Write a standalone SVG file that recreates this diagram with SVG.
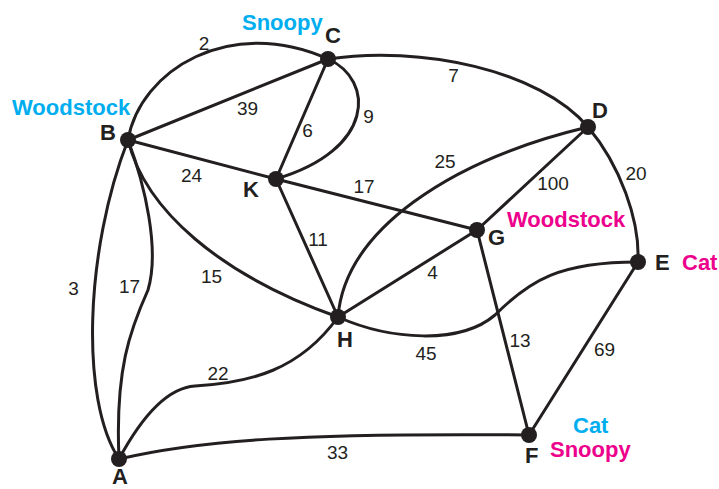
<svg xmlns="http://www.w3.org/2000/svg" width="719" height="489" viewBox="0 0 719 489">
<style>
.e{fill:none;stroke:#231f20;stroke-width:3;stroke-linecap:round}
.n{fill:#231f20}
.nl{font-family:"Liberation Sans",Arial,sans-serif;font-weight:bold;font-size:22px;fill:#231f20}
.w{font-family:"Liberation Sans",Arial,sans-serif;font-size:19px;fill:#231f20;text-anchor:middle}
.cy{font-family:"Liberation Sans",Arial,sans-serif;font-weight:bold;font-size:22px;fill:#00aeef}
.mg{font-family:"Liberation Sans",Arial,sans-serif;font-weight:bold;font-size:22px;fill:#ec008c}
</style>
<rect width="719" height="489" fill="#fff"/>
<g id="connectors">
<path class="e" d="M128,140 L328,59"/>
<path class="e" d="M128,140 C140,70 230,15 328,59"/>
<path class="e" d="M328,59 L276,179"/>
<path class="e" d="M328,59 C375,80 375,150 276,179"/>
<path class="e" d="M328,59 C420,45 540,70 588,127"/>
<path class="e" d="M588,127 C620,165 640,220 638,262"/>
<path class="e" d="M128,140 L276,179"/>
<path class="e" d="M276,179 L477,230"/>
<path class="e" d="M276,179 L338,317"/>
<path class="e" d="M588,127 L477,230"/>
<path class="e" d="M338,317 C345,230 450,160 588,127"/>
<path class="e" d="M338,317 L477,230"/>
<path class="e" d="M477,230 L529,435"/>
<path class="e" d="M338,317 C390,340 460,345 495,315 C530,280 560,262 638,262"/>
<path class="e" d="M638,262 L529,435"/>
<path class="e" d="M119,459 C200,440 300,433 529,435"/>
<path class="e" d="M119,459 C80,400 85,250 128,140"/>
<path class="e" d="M128,140 C145,185 160,250 148,290 C130,330 115,370 119,459"/>
<path class="e" d="M119,459 C140,420 165,388 195,386 C250,383 300,370 338,317"/>
<path class="e" d="M128,140 C145,210 220,275 338,317"/>
</g>
<g id="weights">
<text class="w" x="204" y="50">2</text>
<text class="w" x="247.5" y="115">39</text>
<text class="w" x="307.5" y="137">6</text>
<text class="w" x="191.5" y="182">24</text>
<text class="w" x="368.5" y="123">9</text>
<text class="w" x="453.5" y="82">7</text>
<text class="w" x="445" y="168">25</text>
<text class="w" x="553" y="190">100</text>
<text class="w" x="636" y="180">20</text>
<text class="w" x="364" y="193">17</text>
<text class="w" x="318" y="246">11</text>
<text class="w" x="73.5" y="295">3</text>
<text class="w" x="129.5" y="293">17</text>
<text class="w" x="211.5" y="283">15</text>
<text class="w" x="218" y="380">22</text>
<text class="w" x="337.5" y="459">33</text>
<text class="w" x="432.5" y="279">4</text>
<text class="w" x="426" y="360">45</text>
<text class="w" x="520" y="347">13</text>
<text class="w" x="604.5" y="356">69</text>
</g>
<g id="node-A"><circle class="n" cx="119" cy="459" r="8"/><text class="nl" x="112" y="484">A</text></g>
<g id="node-B"><circle class="n" cx="128" cy="140" r="8"/><text class="nl" x="100" y="140">B</text><text class="cy" x="12" y="115">Woodstock</text></g>
<g id="node-C"><circle class="n" cx="328" cy="59" r="8"/><text class="nl" x="325" y="43">C</text><text class="cy" x="242" y="30">Snoopy</text></g>
<g id="node-D"><circle class="n" cx="588" cy="127" r="8"/><text class="nl" x="592" y="118">D</text></g>
<g id="node-E"><circle class="n" cx="638" cy="262" r="8"/><text class="nl" x="655" y="270">E</text><text class="mg" x="682" y="270">Cat</text></g>
<g id="node-F"><circle class="n" cx="529" cy="435" r="8"/><text class="nl" x="525" y="463">F</text><text class="cy" x="573" y="433">Cat</text><text class="mg" x="550" y="457">Snoopy</text></g>
<g id="node-G"><circle class="n" cx="477" cy="230" r="8"/><text class="nl" x="488" y="245">G</text><text class="mg" x="507" y="227">Woodstock</text></g>
<g id="node-H"><circle class="n" cx="338" cy="317" r="8"/><text class="nl" x="337" y="347">H</text></g>
<g id="node-K"><circle class="n" cx="276" cy="179" r="8"/><text class="nl" x="243" y="197">K</text></g>
</svg>
